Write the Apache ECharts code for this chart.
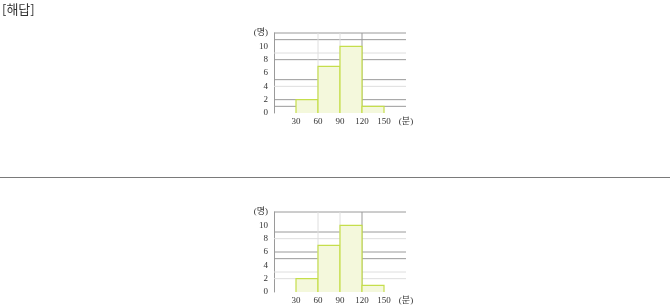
<!DOCTYPE html>
<html>
<head>
<meta charset="utf-8">
<script src="https://cdn.jsdelivr.net/npm/echarts@6/dist/echarts.min.js"></script>
<style>
  html, body { margin: 0; padding: 0; background: #fff; }
  #chart { width: 670px; height: 305px; }
</style>
</head>
<body>
<div id="chart"></div>
<script>
// Histogram: time spent (minutes) vs. number of people
const binStarts = [30, 60, 90, 120];
const binEnds = [60, 90, 120, 150];
const counts = [2, 7, 10, 1];

const xTickValues = [30, 60, 90, 120, 150];
const yTickValues = [0, 2, 4, 6, 8, 10];
const xUnit = '(분)';
const yUnit = '(명)';
const headingText = '[해답]';

// Horizontal rule levels of each panel (dark and light)
const upperDarkRules = [1, 2, 5, 8, 11, 12];
const upperLightRules = [4, 9];
const lowerDarkRules = [5, 6, 9, 12];
const lowerLightRules = [2, 3, 8];

// Vertical rules shared by both panels
const darkColumns = [120];
const lightColumns = [60, 90];

const X_MIN = 0, X_MAX = 180, Y_MIN = 0, Y_MAX = 12;
const DARK = '#9a9a9a', LIGHT = '#dedede';
const BAR_FILL = '#f4f8dc', BAR_EDGE = '#c5de4c';
const LABEL_FONT = "'Liberation Serif', 'Noto Sans CJK KR', serif";

const chart = echarts.init(document.getElementById('chart'), null, { renderer: 'canvas' });

const panelTops = [33, 212];
const grids = [], xAxes = [], yAxes = [], series = [];

function hRules(idx, levels, color) {
  return {
    type: 'custom', xAxisIndex: idx, yAxisIndex: idx, z: 1, silent: true,
    data: levels.map(v => [X_MIN, v]),
    renderItem(params, api) {
      const a = api.coord([X_MIN, api.value(1)]);
      const b = api.coord([X_MAX, api.value(1)]);
      return { type: 'line', shape: { x1: a[0], y1: a[1], x2: b[0], y2: b[1] },
               style: { stroke: color, lineWidth: 1 } };
    }
  };
}

function vRules(idx, positions, color) {
  return {
    type: 'custom', xAxisIndex: idx, yAxisIndex: idx, z: 1, silent: true,
    data: positions.map(v => [v, Y_MIN]),
    renderItem(params, api) {
      const a = api.coord([api.value(0), Y_MIN]);
      const b = api.coord([api.value(0), Y_MAX]);
      return { type: 'line', shape: { x1: a[0], y1: a[1], x2: b[0], y2: b[1] },
               style: { stroke: color, lineWidth: 1 } };
    }
  };
}

function bars(idx) {
  return {
    type: 'custom', xAxisIndex: idx, yAxisIndex: idx, z: 5, silent: true,
    data: counts.map((c, i) => [binStarts[i], binEnds[i], c]),
    renderItem(params, api) {
      const p0 = api.coord([api.value(0), 0]);
      const p1 = api.coord([api.value(1), api.value(2)]);
      return {
        type: 'group',
        children: [
          { type: 'rect',
            shape: { x: p0[0], y: p1[1], width: p1[0] - p0[0], height: p0[1] - p1[1] },
            style: { fill: BAR_FILL } },
          { type: 'polyline',
            shape: { points: [[p0[0], p0[1]], [p0[0], p1[1]], [p1[0], p1[1]], [p1[0], p0[1]]] },
            style: { stroke: BAR_EDGE, lineWidth: 1.2, fill: null } }
        ]
      };
    }
  };
}

panelTops.forEach((top, idx) => {
  grids.push({ left: 274, top: top, width: 132, height: 80,
               containLabel: false, outerBoundsMode: 'none' });
  xAxes.push({
    type: 'value', gridIndex: idx, min: X_MIN, max: X_MAX, interval: 30,
    axisLine: { show: false }, axisTick: { show: false }, splitLine: { show: false },
    axisLabel: {
      margin: 4, color: '#333', fontSize: 9, fontFamily: LABEL_FONT,
      showMinLabel: true, showMaxLabel: true,
      formatter: v => v === X_MAX ? xUnit : (xTickValues.includes(v) ? String(v) : '')
    }
  });
  yAxes.push({
    type: 'value', gridIndex: idx, min: Y_MIN, max: Y_MAX, interval: 2,
    axisLine: { show: true, lineStyle: { color: DARK, width: 1 } },
    axisTick: { show: false }, splitLine: { show: false },
    axisLabel: {
      margin: 6, color: '#333', fontSize: 9, fontFamily: LABEL_FONT,
      showMinLabel: true, showMaxLabel: true,
      formatter: v => v === Y_MAX ? yUnit : (yTickValues.includes(v) ? String(v) : '')
    }
  });
  const dark = idx === 0 ? upperDarkRules : lowerDarkRules;
  const light = idx === 0 ? upperLightRules : lowerLightRules;
  series.push(hRules(idx, light, LIGHT));
  series.push(hRules(idx, dark, DARK));
  series.push(vRules(idx, lightColumns, LIGHT));
  series.push(vRules(idx, darkColumns, DARK));
  series.push(bars(idx));
});

chart.setOption({
  animation: false,
  backgroundColor: '#fff',
  grid: grids,
  xAxis: xAxes,
  yAxis: yAxes,
  series: series,
  graphic: [
    { type: 'text', left: 2, top: 3,
      style: { text: headingText, fill: '#333', font: "13px 'Noto Sans CJK KR', sans-serif" } },
    { type: 'line', shape: { x1: 0, y1: 177.5, x2: 670, y2: 177.5 },
      style: { stroke: '#7a7a7a', lineWidth: 1 } }
  ]
});
</script>
</body>
</html>
